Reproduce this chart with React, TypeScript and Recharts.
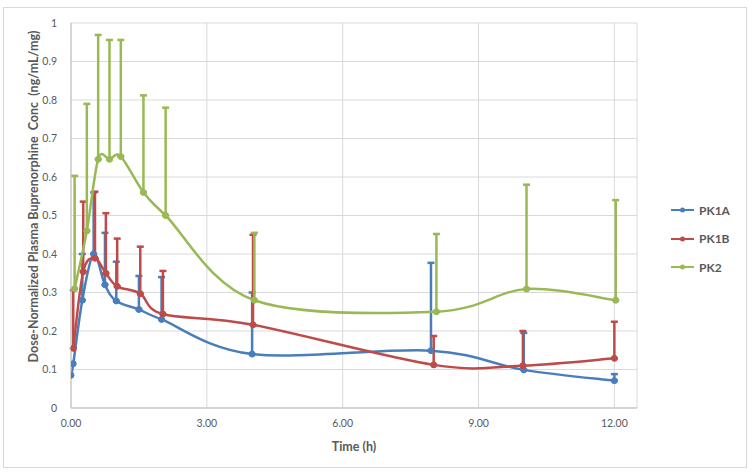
import React from "react";
import { LineChart, Line, XAxis, YAxis, CartesianGrid, ErrorBar, Legend } from "recharts";

// axis ticks
const xTicks = [0, 3, 6, 9, 12];
const yTicks = [0, 0.1, 0.2, 0.3, 0.4, 0.5, 0.6, 0.7, 0.8, 0.9, 1];

// PK1A (blue)
const pk1aTime = [0.0, 0.05, 0.25, 0.5, 0.75, 1.0, 1.5, 2.0, 4.0, 7.95, 10.0, 12.0];
const pk1aConc = [0.085, 0.115, 0.28, 0.4, 0.32, 0.278, 0.256, 0.23, 0.14, 0.149, 0.099, 0.071];
const pk1aUpper = [null, null, 0.4, 0.56, 0.455, 0.38, 0.343, 0.34, 0.3, 0.377, 0.195, 0.088];

// PK1B (red)
const pk1bTime = [0.05, 0.27, 0.53, 0.77, 1.02, 1.53, 2.03, 4.02, 8.01, 9.98, 12.0];
const pk1bConc = [0.155, 0.354, 0.389, 0.35, 0.316, 0.297, 0.244, 0.216, 0.112, 0.11, 0.129];
const pk1bUpper = [0.306, 0.536, 0.562, 0.506, 0.44, 0.419, 0.356, 0.45, 0.187, 0.2, 0.224];

// PK2 (green)
const pk2Time = [0.08, 0.35, 0.6, 0.85, 1.1, 1.6, 2.09, 4.05, 8.07, 10.06, 12.03];
const pk2Conc = [0.31, 0.46, 0.646, 0.646, 0.653, 0.56, 0.5, 0.28, 0.25, 0.309, 0.28];
const pk2Upper = [0.603, 0.79, 0.969, 0.956, 0.956, 0.812, 0.78, 0.455, 0.452, 0.58, 0.54];

const FONT = "Lato, 'Open Sans', sans-serif";
const TEXT = "#595959";
const GRID = "#d9d9d9";

function rows(time: number[], conc: number[], upper: (number | null)[]) {
  return time.map((t, i) => ({
    t,
    c: conc[i],
    err: upper[i] == null ? null : [0, Math.max(0, (upper[i] as number) - conc[i])],
  }));
}

const series = [
  { name: "PK1A", color: "#4a7ebb", data: rows(pk1aTime, pk1aConc, pk1aUpper) },
  { name: "PK1B", color: "#be4b48", data: rows(pk1bTime, pk1bConc, pk1bUpper) },
  { name: "PK2", color: "#98b954", data: rows(pk2Time, pk2Conc, pk2Upper) },
];

// Excel-style smoothed line (uniform Catmull-Rom as cubic beziers)
function excelSmooth(context: any) {
  let pts: number[][] = [];
  return {
    areaStart() {},
    areaEnd() {},
    lineStart() {
      pts = [];
    },
    lineEnd() {
      const n = pts.length;
      if (!n) return;
      context.moveTo(pts[0][0], pts[0][1]);
      for (let i = 0; i < n - 1; i++) {
        const p0 = pts[Math.max(i - 1, 0)];
        const p1 = pts[i];
        const p2 = pts[i + 1];
        const p3 = pts[Math.min(i + 2, n - 1)];
        context.bezierCurveTo(
          p1[0] + (p2[0] - p0[0]) / 6,
          p1[1] + (p2[1] - p0[1]) / 6,
          p2[0] - (p3[0] - p1[0]) / 6,
          p2[1] - (p3[1] - p1[1]) / 6,
          p2[0],
          p2[1]
        );
      }
    },
    point(x: number, y: number) {
      pts.push([+x, +y]);
    },
  };
}

function YTitle(props: any) {
  const vb = props.viewBox;
  const cx = vb.x + 33;
  const cy = vb.y + vb.height / 2 - 19;
  return (
    <text
      x={cx}
      y={cy}
      transform={`rotate(-90, ${cx}, ${cy})`}
      textAnchor="middle"
      dominantBaseline="central"
      style={{ whiteSpace: "pre", fontFamily: FONT, fontSize: 12.5, fontWeight: 700, fill: TEXT }}
    >
      {"Dose-Normalized Plasma Buprenorphine  Conc  (ng/mL/mg)"}
    </text>
  );
}

function XTitle(props: any) {
  const vb = props.viewBox;
  return (
    <text
      x={vb.x + vb.width / 2}
      y={vb.y + 38}
      textAnchor="middle"
      dominantBaseline="central"
      style={{ fontFamily: FONT, fontSize: 12.5, fontWeight: 700, fill: TEXT }}
    >
      Time (h)
    </text>
  );
}

function LegendBox(props: any) {
  const { payload } = props;
  return (
    <div style={{ fontFamily: FONT, fontSize: 12, color: TEXT }}>
      {(payload || []).map((p: any) => (
        <div key={p.value} style={{ display: "flex", alignItems: "center", height: 28.5 }}>
          <svg width={26} height={8} style={{ marginRight: 3 }}>
            <line x1={1} y1={4} x2={24} y2={4} stroke={p.color} strokeWidth={2} />
            <circle cx={12.5} cy={4} r={2.5} fill={p.color} />
          </svg>
          <span style={{ fontWeight: 700 }}>{p.value}</span>
        </div>
      ))}
    </div>
  );
}

export default function App() {
  return (
    <div style={{ position: "absolute", left: 0, top: 0, width: 754, height: 476, background: "#fff" }}>
      <div
        style={{
          position: "absolute",
          left: 3,
          top: 7,
          width: 742,
          height: 459,
          border: "1px solid #d9d9d9",
          pointerEvents: "none",
        }}
      />
      <LineChart width={754} height={476} margin={{ top: 23, right: 117, bottom: 18, left: 0 }}>
        <CartesianGrid stroke={GRID} vertical={true} />
        <XAxis
          type="number"
          dataKey="t"
          domain={[0, 12.5]}
          ticks={xTicks}
          allowDataOverflow
          tickFormatter={(v: number) => v.toFixed(2)}
          tick={{ fontFamily: FONT, fontSize: 10.5, fill: TEXT }}
          tickLine={false}
          tickSize={0}
          tickMargin={12}
          height={50}
          stroke="#bfbfbf"
          label={XTitle}
        />
        <YAxis
          type="number"
          domain={[0, 1]}
          ticks={yTicks}
          allowDataOverflow
          tickFormatter={(v: number) => String(Math.round(v * 10) / 10)}
          tick={{ fontFamily: FONT, fontSize: 10.5, fill: TEXT }}
          tickLine={false}
          tickSize={0}
          tickMargin={14}
          width={71}
          stroke="#bfbfbf"
          label={YTitle}
        />
        <Legend
          layout="vertical"
          align="center"
          verticalAlign="middle"
          wrapperStyle={{ left: 670, top: 196, width: 80 }}
          content={LegendBox}
        />
        {series.map((s) => (
          <Line
            key={s.name}
            name={s.name}
            data={s.data}
            dataKey="c"
            type={excelSmooth as any}
            stroke={s.color}
            strokeWidth={2.5}
            dot={{ r: 3, fill: s.color, stroke: s.color, strokeWidth: 1 }}
            activeDot={false}
            isAnimationActive={false}
          >
            <ErrorBar dataKey="err" direction="y" width={3.5} strokeWidth={2.5} stroke={s.color} isAnimationActive={false} />
          </Line>
        ))}
      </LineChart>
    </div>
  );
}
